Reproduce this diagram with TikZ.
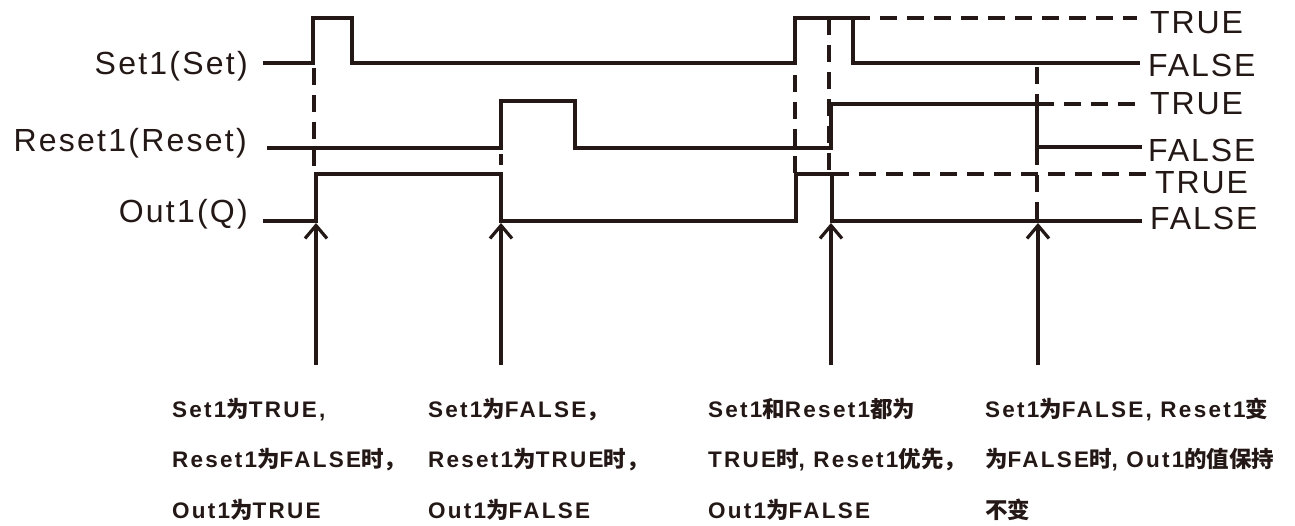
\documentclass[tikz,border=0pt]{standalone}
\usepackage{fontspec}
\setmainfont{Liberation Sans}
\newfontfamily\cjk{Noto Sans CJK SC}
\newcommand{\zh}[1]{{\cjk #1}}
\usetikzlibrary{arrows.meta}
\definecolor{ink}{HTML}{231815}
\tikzset{
   wave/.style={draw=ink, line width=3.2pt},
   guide/.style={draw=ink, line width=3.2pt, dash pattern=on 17pt off 10pt},
   marker/.style={draw=ink, line width=3.2pt,
      -{Straight Barb[length=13pt,width=22pt,line width=3.2pt]}},
   signame/.style={anchor=base east, inner sep=0pt, text=ink,
      font=\fontsize{32}{36}\selectfont\addfontfeatures{LetterSpace=7}},
   level/.style={anchor=base west, inner sep=0pt, text=ink,
      font=\fontsize{32}{36}\selectfont\addfontfeatures{LetterSpace=6}},
   remark/.style={anchor=base west, inner sep=0pt, text=ink, align=left,
      font=\fontsize{22.5}{50.5}\selectfont\bfseries\addfontfeatures{LetterSpace=10}},
}
\begin{document}
\begin{tikzpicture}[x=1pt,y=-1pt]
            \useasboundingbox (0,0) rectangle (1295,526);
            \node[signame] (set) at (248,75) {Set1(Set)};
            \node[signame] (reset) at (247,152) {Reset1(Reset)};
            \node[signame] (out) at (248,223) {Out1(Q)};
            \draw[wave](263,63)--(313,63)--(313,18)--(352,18)--(352,63)--(795,63)--(795,18)--(853,18)--(853,63)--(1140,63);
            \draw[wave](267,148)--(501,148)--(501,101)--(575,101)--(575,148)--(831,148)--(831,104)--(1037,104)--(1037,147)--(1142,147);
            \draw[wave](263,221)--(316,221)--(316,174)--(501,174)--(501,221)--(796,221)--(796,174)--(832,174)--(832,221)--(1142,221);
            \draw[guide](853,18)--(1137,18);
            \draw[guide](1037,104)--(1135,104);
            \draw[guide](832,174)--(1147,174);
            \draw[guide](314,68)--(314,166);
            \draw[guide](501,154)--(501,165);
            \draw[guide](795,75)--(795,173);
            \draw[guide](829,18)--(829,174);
            \draw[guide](1037,67)--(1037,221);
            \node[level] (t1) at (1150,33.5) {TRUE};
            \node[level] (f1) at (1148,76.5) {FALSE};
            \node[level] (t2) at (1150,114.5) {TRUE};
            \node[level] (f2) at (1148,161.5) {FALSE};
            \node[level] (t3) at (1155,193.5) {TRUE};
            \node[level] (f3) at (1150,229.5) {FALSE};
            \foreach \name/\x in {a/316, b/501, c/831, d/1038}{
               \coordinate (\name tip) at (\x,223);
               \coordinate (\name foot) at (\x,365);
               \draw[marker](\name foot)to(\name tip);
            }
            \node[remark] (ra) at (172,518) {Set1\zh{为}TRUE,\\Reset1\zh{为}FALSE\zh{时，}\\Out1\zh{为}TRUE};
            \node[remark] (rb) at (428,518) {Set1\zh{为}FALSE\zh{，}\\Reset1\zh{为}TRUE\zh{时，}\\Out1\zh{为}FALSE};
            \node[remark] (rc) at (708,518) {Set1\zh{和}Reset1\zh{都为}\\TRUE\zh{时}, Reset1\zh{优先，}\\Out1\zh{为}FALSE};
            \node[remark] (rd) at (985,518) {Set1\zh{为}FALSE, Reset1\zh{变}\\\zh{为}FALSE\zh{时}, Out1\zh{的值保持}\\\zh{不变}};
        \end{tikzpicture}
\end{document}
